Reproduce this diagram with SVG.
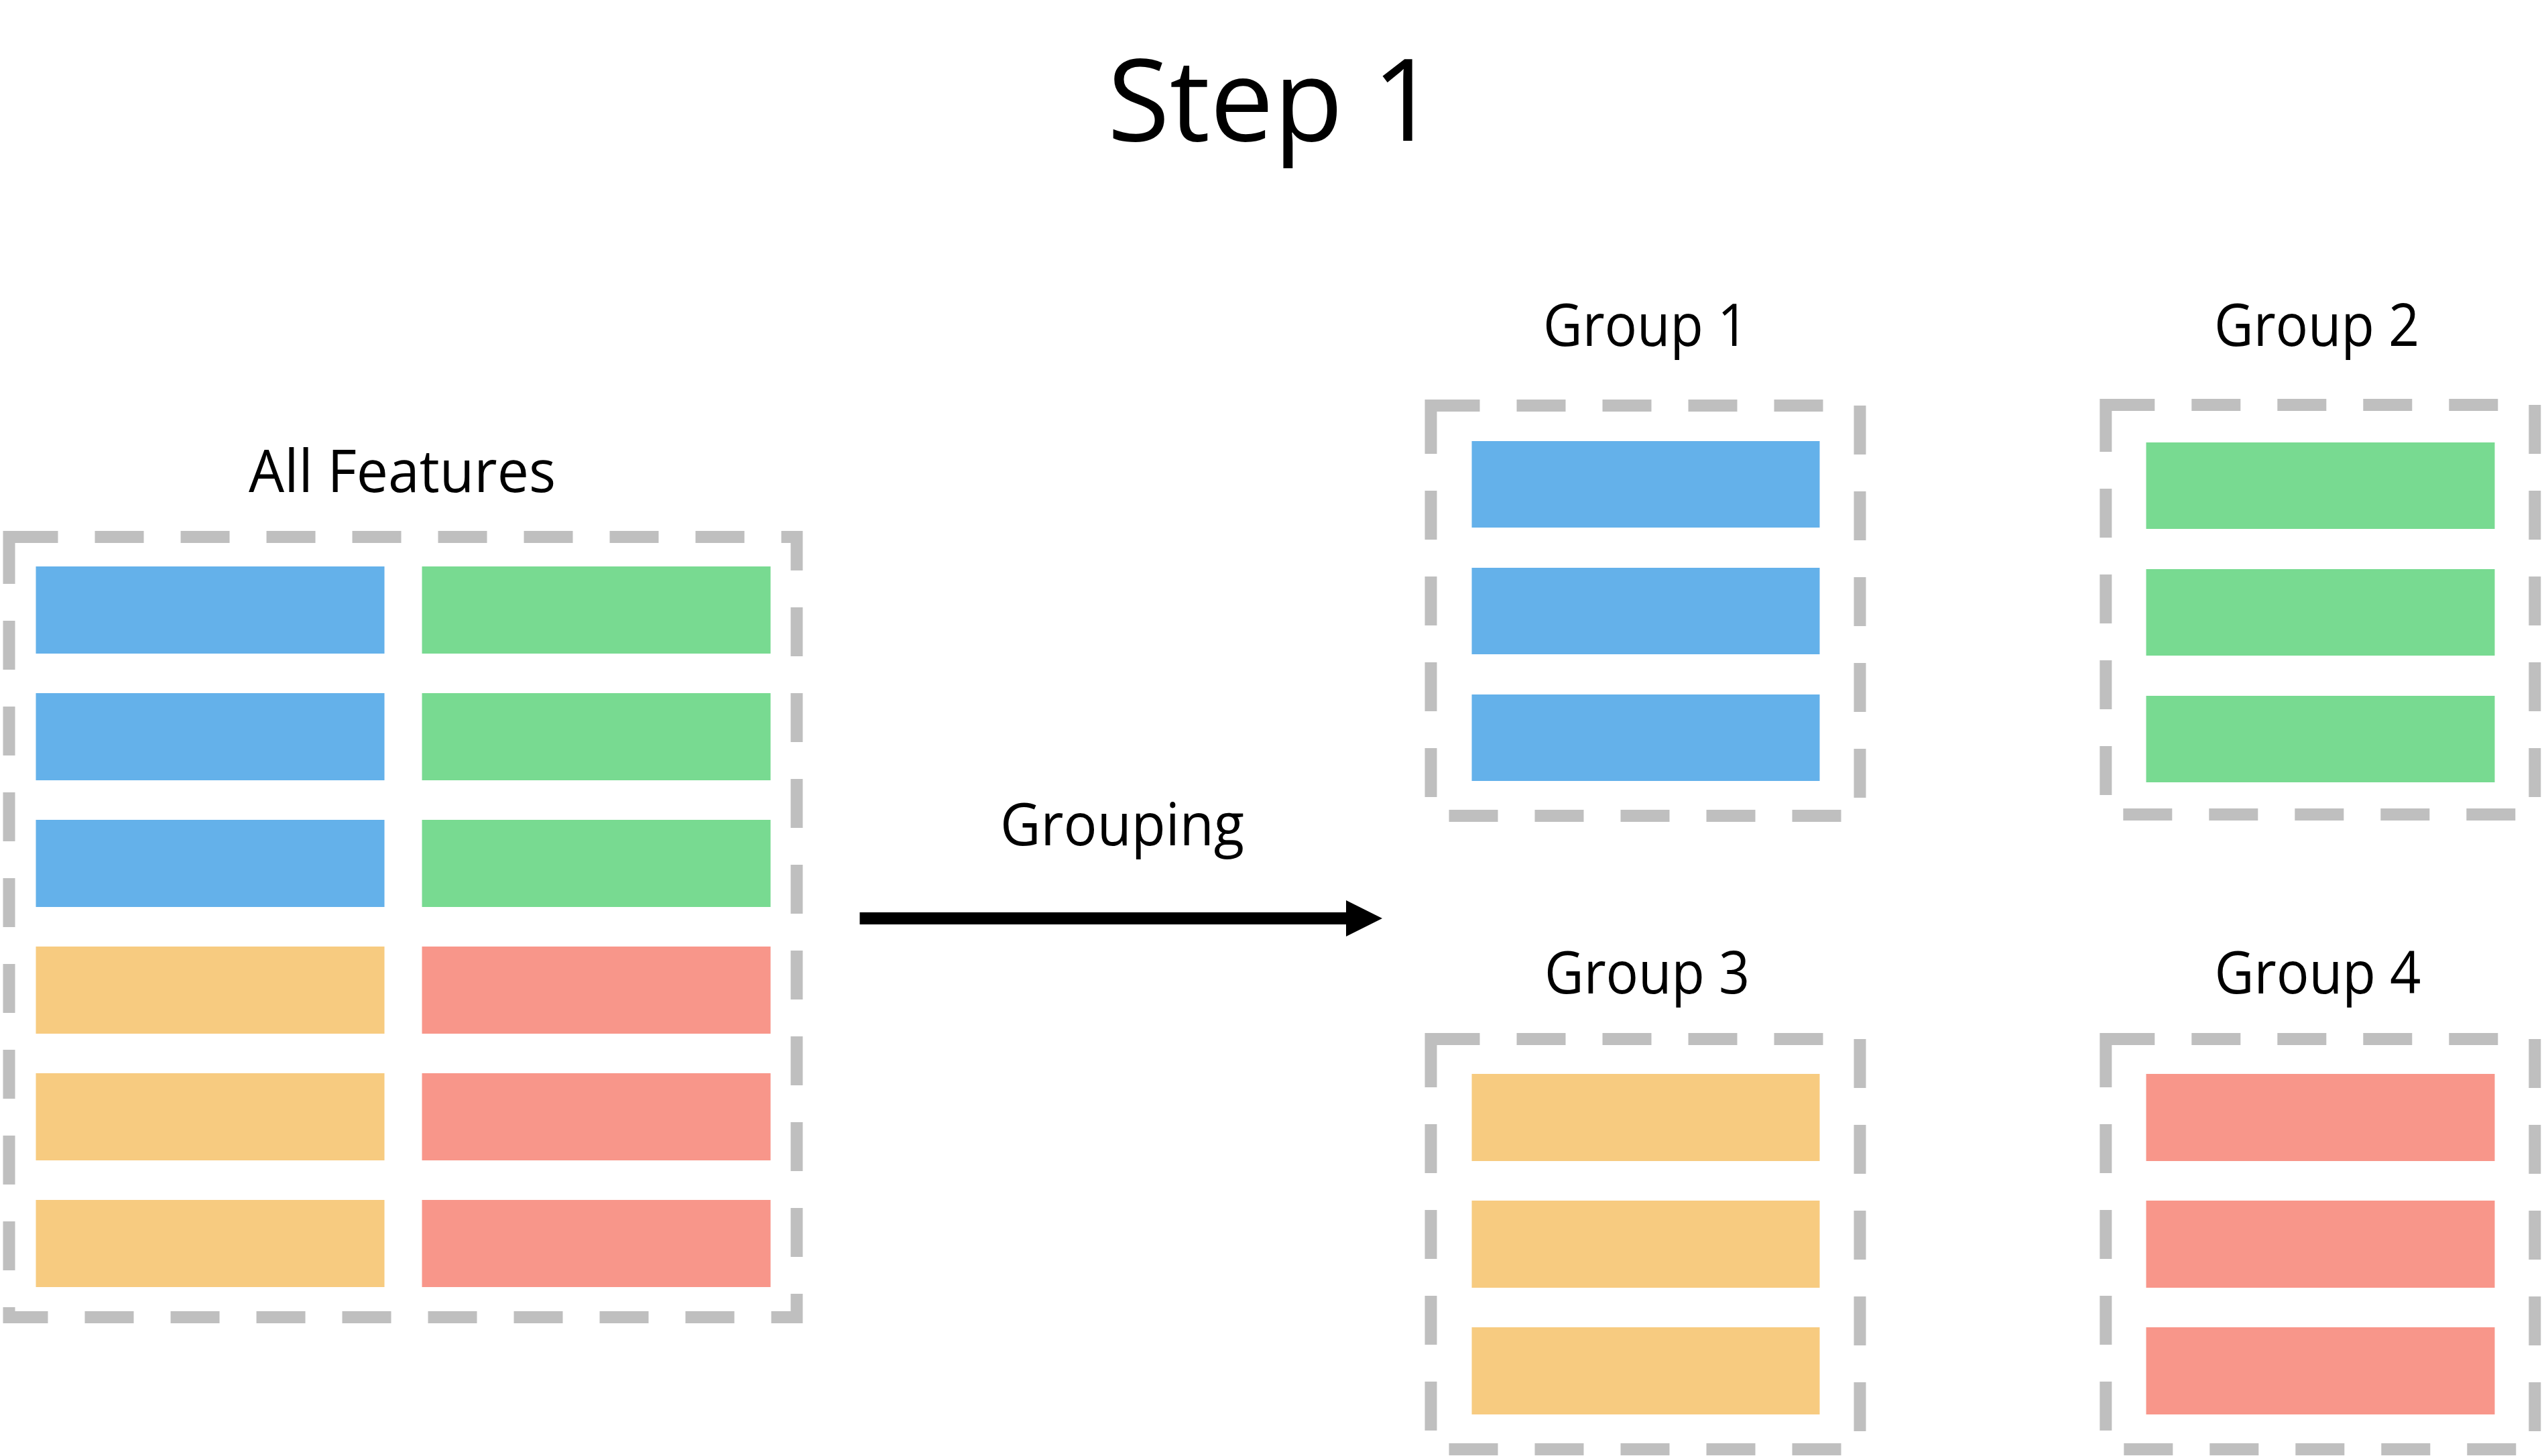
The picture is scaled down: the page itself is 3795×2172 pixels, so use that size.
<svg xmlns="http://www.w3.org/2000/svg" width="3795" height="2172" viewBox="0 0 3795 2172">
  <style>
    .box { fill: none; stroke: #BFBFBF; stroke-width: 18; stroke-dasharray: 73 55; }
    .blue { fill: #64B1EA; }
    .green { fill: #78DA91; }
    .orange { fill: #F7CB80; }
    .red { fill: #F8968A; }
    .label { font-family: "Open Sans", "Noto Sans", "Liberation Sans", sans-serif; font-size: 88px; fill: #000; text-anchor: middle; }
    .title { font-family: "Open Sans", "Noto Sans", "Liberation Sans", sans-serif; font-size: 171px; fill: #000; text-anchor: middle; }
    .conn { stroke: #000; stroke-width: 18; fill: none; }
  </style>
  <defs>
    <marker id="arrowhead" markerUnits="userSpaceOnUse" markerWidth="54" markerHeight="54" viewBox="0 0 54 54" refX="0" refY="27" orient="auto">
      <path d="M0,0 L54,27 L0,54 Z" fill="#000"/>
    </marker>
  </defs>
  <rect width="3795" height="2172" fill="#FFFFFF"/>

  <text id="title" class="title" x="1898" y="210" textLength="492" lengthAdjust="spacingAndGlyphs">Step 1</text>

  <g id="all-features">
    <text class="label" x="600" y="734" textLength="458" lengthAdjust="spacingAndGlyphs">All Features</text>
    <rect class="box" x="13.5" y="801" width="1175" height="1164"/>
    <rect class="blue" x="53.5" y="845" width="520" height="130"/>
    <rect class="blue" x="53.5" y="1034" width="520" height="130"/>
    <rect class="blue" x="53.5" y="1223" width="520" height="130"/>
    <rect class="orange" x="53.5" y="1412" width="520" height="130"/>
    <rect class="orange" x="53.5" y="1601" width="520" height="130"/>
    <rect class="orange" x="53.5" y="1790" width="520" height="130"/>
    <rect class="green" x="629.5" y="845" width="520" height="130"/>
    <rect class="green" x="629.5" y="1034" width="520" height="130"/>
    <rect class="green" x="629.5" y="1223" width="520" height="130"/>
    <rect class="red" x="629.5" y="1412" width="520" height="130"/>
    <rect class="red" x="629.5" y="1601" width="520" height="130"/>
    <rect class="red" x="629.5" y="1790" width="520" height="130"/>
  </g>

  <g id="group-1">
    <text class="label" x="2455" y="516" textLength="306" lengthAdjust="spacingAndGlyphs">Group 1</text>
    <rect class="box" x="2134.5" y="605" width="640" height="612"/>
    <rect class="blue" x="2195.5" y="658" width="519" height="129"/>
    <rect class="blue" x="2195.5" y="847" width="519" height="129"/>
    <rect class="blue" x="2195.5" y="1036" width="519" height="129"/>
  </g>

  <g id="group-2">
    <text class="label" x="3456" y="516" textLength="306" lengthAdjust="spacingAndGlyphs">Group 2</text>
    <rect class="box" x="3141.3" y="604" width="640" height="611"/>
    <rect class="green" x="3201.5" y="660" width="520" height="129"/>
    <rect class="green" x="3201.5" y="849" width="520" height="129"/>
    <rect class="green" x="3201.5" y="1038" width="520" height="129"/>
  </g>

  <g id="group-3">
    <text class="label" x="2457" y="1482" textLength="306" lengthAdjust="spacingAndGlyphs">Group 3</text>
    <rect class="box" x="2134.5" y="1550" width="640" height="612"/>
    <rect class="orange" x="2195.5" y="1602" width="519" height="130"/>
    <rect class="orange" x="2195.5" y="1791" width="519" height="130"/>
    <rect class="orange" x="2195.5" y="1980" width="519" height="130"/>
  </g>

  <g id="group-4">
    <text class="label" x="3457.5" y="1482" textLength="308" lengthAdjust="spacingAndGlyphs">Group 4</text>
    <rect class="box" x="3141.3" y="1550" width="640" height="612"/>
    <rect class="red" x="3201.5" y="1602" width="520" height="130"/>
    <rect class="red" x="3201.5" y="1791" width="520" height="130"/>
    <rect class="red" x="3201.5" y="1980" width="520" height="130"/>
  </g>

  <g id="connectors">
    <line class="conn" x1="1282.5" y1="1370" x2="2008" y2="1370" marker-end="url(#arrowhead)"/>
    <text class="label" x="1674" y="1261" textLength="364" lengthAdjust="spacingAndGlyphs">Grouping</text>
  </g>
</svg>
